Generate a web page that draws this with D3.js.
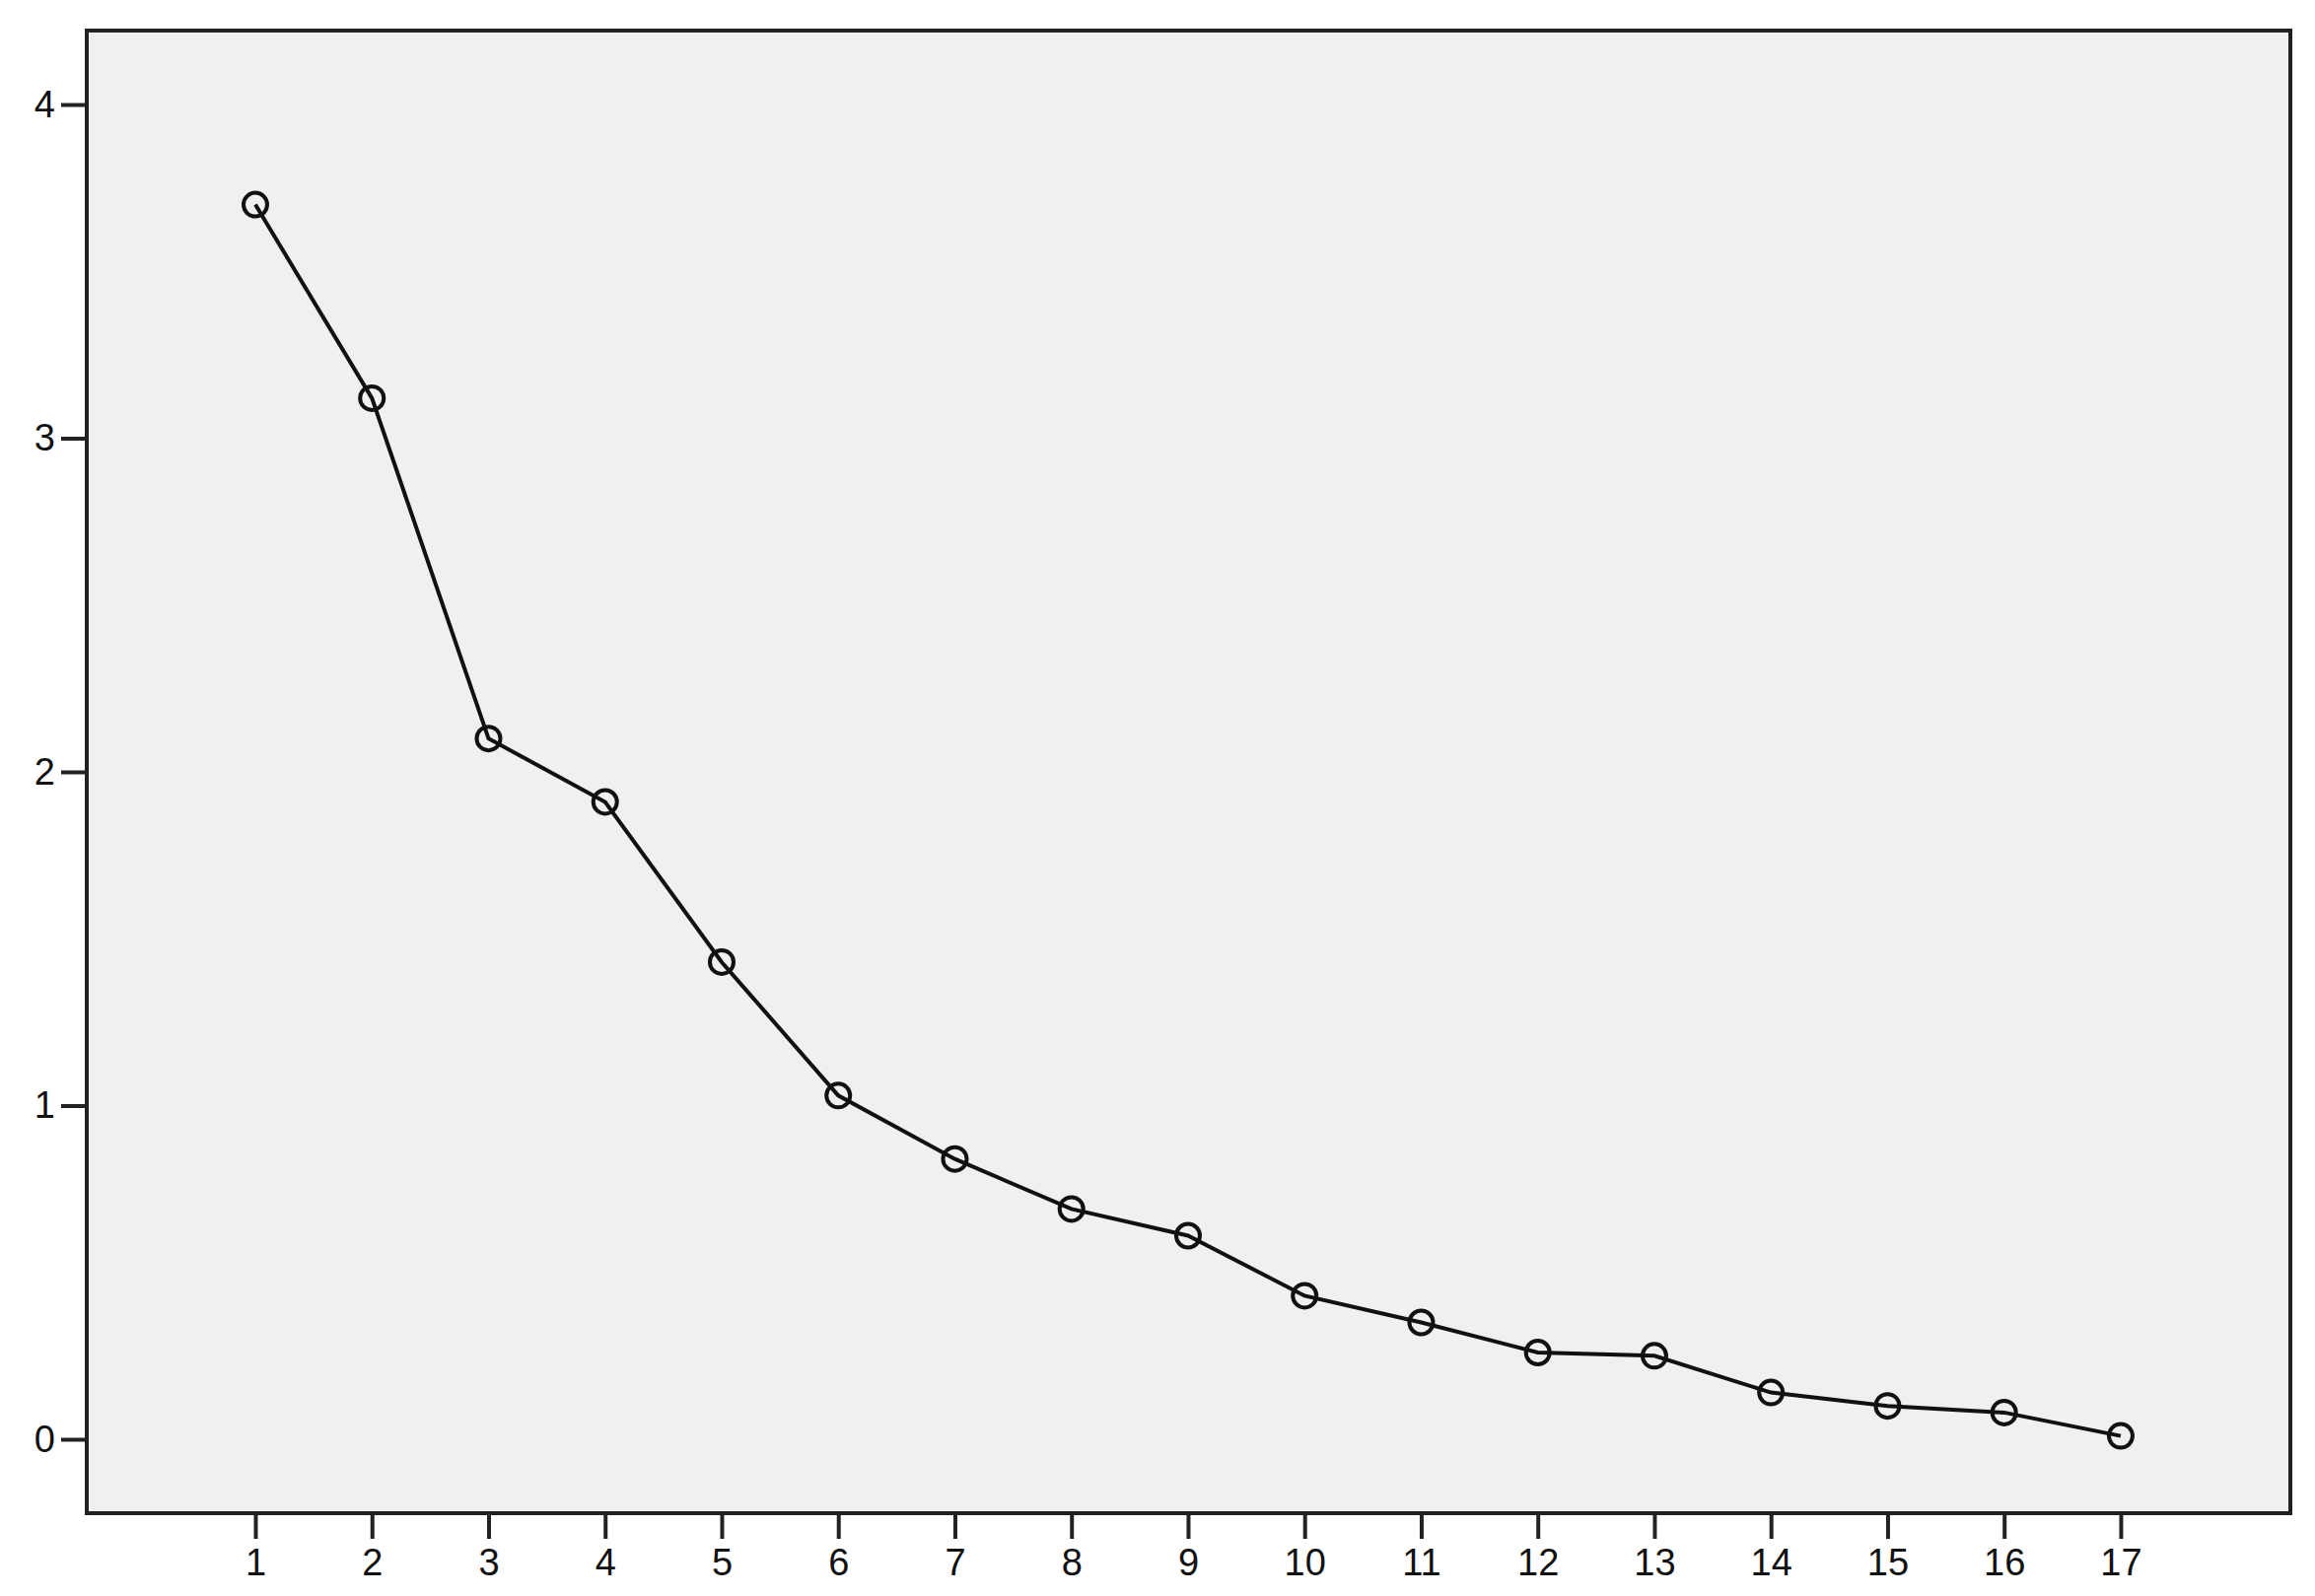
<!DOCTYPE html><html><head><meta charset="utf-8">
<script src="https://cdn.jsdelivr.net/npm/d3@7"></script>
<style>body{margin:0;background:#fff}</style></head><body>
<svg id="c" width="2348" height="1619"></svg>
<script>
const components = [1,2,3,4,5,6,7,8,9,10,11,12,13,14,15,16,17];
const eigenvalues = [3.70,3.12,2.10,1.91,1.43,1.03,0.84,0.69,0.61,0.43,0.35,0.26,0.25,0.14,0.10,0.08,0.01];
const yTicks = [0,1,2,3,4];

const L=88,T=31,R=2323,B=1535;
const svg=d3.select("#c");
const x=d3.scaleLinear().domain([-0.446,18.455]).range([L,R]);
const y=d3.scaleLinear().domain([-0.2216,4.2216]).range([B,T]);
svg.append("rect").attr("x",L).attr("y",T).attr("width",R-L).attr("height",B-T)
  .attr("fill","#f0f0f0").attr("stroke","#222").attr("stroke-width",4);
const ya=svg.append("g").attr("transform",`translate(${L},0)`)
  .call(d3.axisLeft(y).tickValues(yTicks).tickSize(26).tickPadding(6).tickFormat(d3.format("d")));
const xa=svg.append("g").attr("transform",`translate(0,${B})`)
  .call(d3.axisBottom(x).tickValues(components).tickSize(26).tickPadding(10).tickFormat(d3.format("d")));
[ya,xa].forEach(a=>{a.select(".domain").remove();
  a.selectAll("line").attr("stroke","#222").attr("stroke-width",4);
  a.selectAll("text").attr("font-family","Arial, Liberation Sans, sans-serif").attr("font-size",38).attr("fill","#111");});
const pts=components.map((c,i)=>[c,eigenvalues[i]]);
svg.append("path").datum(pts).attr("fill","none").attr("stroke","#111").attr("stroke-width",4)
  .attr("d",d3.line().x(d=>x(d[0])).y(d=>y(d[1])));
svg.selectAll("circle.p").data(pts).join("circle").attr("class","p")
  .attr("cx",d=>x(d[0])).attr("cy",d=>y(d[1])).attr("r",12)
  .attr("fill","none").attr("stroke","#111").attr("stroke-width",4);
</script></body></html>
